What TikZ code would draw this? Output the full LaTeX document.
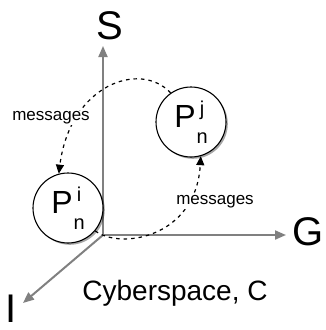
\documentclass[tikz,border=0pt]{standalone}
\usepackage{fontspec}
\setmainfont{Liberation Sans}
\usetikzlibrary{arrows.meta,shadows}
\tikzset{
  axis/.style={draw=black!50, line width=2pt, -{Triangle[length=11pt,width=9pt]}},
  axlabel/.style={font=\fontsize{40}{40}\selectfont, inner sep=0pt},
  proc/.style={circle, draw=black, line width=1.1pt, fill=white, minimum size=70pt, inner sep=0pt,
    drop shadow={shadow xshift=1.8pt, shadow yshift=-1.8pt, fill=black, opacity=0.35}},
  msg/.style={draw=black, line width=1.2pt, dash pattern=on 3.5pt off 4pt, -{Triangle[length=9pt,width=8pt]}},
  msglabel/.style={font=\fontsize{17}{17}\selectfont, fill=white, inner sep=1pt},
}
\newcommand{\procname}[1]{\fontsize{32}{32}\selectfont P\hspace{1pt}\rlap{\raisebox{0.36em}{\fontsize{20}{20}\selectfont\,#1}}\raisebox{-0.5em}{\fontsize{20}{20}\selectfont n}}
\begin{document}
\begin{tikzpicture}[x=1pt,y=-1pt]
\useasboundingbox (0,0) rectangle (326,330);
\coordinate (O) at (103,235);
\coordinate (Stip) at (103,46);
\coordinate (Gtip) at (286,235);
\coordinate (Itip) at (23,303);
\draw[axis] (O) -- (Stip);
\draw[axis] (O) -- (Gtip);
\draw[axis] (O) -- (Itip);
\node[axlabel] (S) at (110,26) {S};
\node[axlabel] (G) at (308,232) {G};
\node[axlabel] (I) at (11,309) {I};
\node[font=\fontsize{28}{28}\selectfont] (C) at (175,293) {Cyberspace, C};
\node[proc] (pi) at (68,208) {\procname{i}};
\node[proc] (pj) at (191,122) {\procname{j}};
\draw[msg] (pj.125) .. controls (140,60) and (70,85) .. (pi.105);
\draw[msg] (pi.-40) .. controls (120,250) and (196,238) .. (pj.-74);
\node[msglabel] (m1) at (51,118) {messages};
\node[msglabel] (m2) at (215,202) {messages};
\end{tikzpicture}
\end{document}
